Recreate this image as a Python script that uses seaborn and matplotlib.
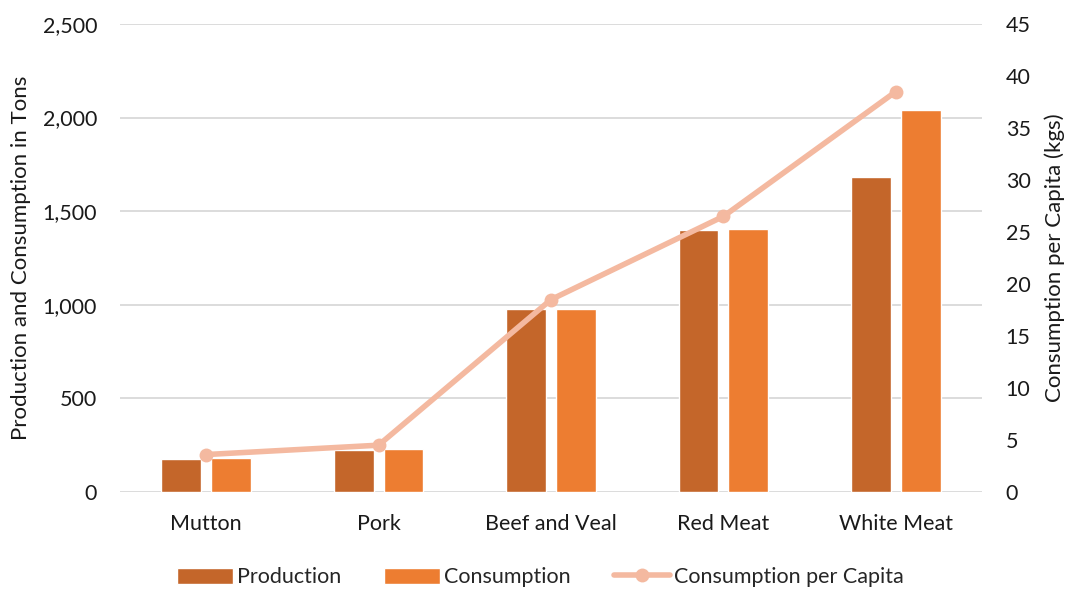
import matplotlib
matplotlib.use("Agg")
import matplotlib.pyplot as plt
import matplotlib.ticker as mticker
from matplotlib.patches import Patch
from matplotlib.lines import Line2D
import pandas as pd
import seaborn as sns

categories = ["Mutton", "Pork", "Beef and Veal", "Red Meat", "White Meat"]
production = [176, 225, 977, 1400, 1683]
consumption = [183, 231, 977, 1403, 2040]
per_capita = [3.6, 4.5, 18.5, 26.5, 38.5]

c_prod = "#C4662A"
c_cons = "#ED7D31"
c_line = "#F4B9A0"

sns.set_theme(style="white")
plt.rcParams["font.family"] = ["Lato", "DejaVu Sans"]

df = pd.DataFrame({
    "category": categories * 2,
    "value": production + consumption,
    "series": ["Production"] * 5 + ["Consumption"] * 5,
})
df_line = pd.DataFrame({"category": categories, "per_capita": per_capita})

fig = plt.figure(figsize=(10.7, 5.89), dpi=100)
ax = fig.add_axes([0.1121, 0.1647, 0.8057, 0.7946])

sns.barplot(data=df, x="category", y="value", hue="series",
            palette=[c_prod, c_cons], width=0.576, gap=0.2,
            saturation=1, legend=False, ax=ax)

ax.set_ylim(0, 2500)
ax.set_xlim(-0.5, 4.5)
ax.yaxis.set_major_locator(mticker.MultipleLocator(500))
ax.yaxis.set_major_formatter(mticker.FuncFormatter(lambda v, p: f"{int(v):,}"))
ax.grid(axis="y", color="#D9D9D9", linewidth=1.3)
ax.set_axisbelow(True)
for s in ax.spines.values():
    s.set_visible(False)
ax.tick_params(axis="both", length=0, labelsize=15.5, colors="#1a1a1a")
ax.tick_params(axis="x", pad=16)
ax.tick_params(axis="y", pad=16.5)
ax.set_xlabel("")
ax.set_ylabel("Production and Consumption in Tons", fontsize=16, color="#1a1a1a", labelpad=8)

ax2 = ax.twinx()
sns.lineplot(data=df_line, x="category", y="per_capita", color=c_line,
             linewidth=4, marker="o", markersize=10, markeredgewidth=0,
             sort=False, ax=ax2)
ax2.set_ylim(0, 45)
ax2.yaxis.set_major_locator(mticker.MultipleLocator(5))
for s in ax2.spines.values():
    s.set_visible(False)
ax2.tick_params(axis="y", length=0, labelsize=15.5, colors="#1a1a1a", pad=17)
ax2.set_ylabel("Consumption per Capita (kgs)", fontsize=16, color="#1a1a1a",
               rotation=90, labelpad=10)
ax2.grid(False)
ax2.set_xlim(-0.5, 4.5)

handles = [
    Patch(facecolor=c_prod, label="Production"),
    Patch(facecolor=c_cons, label="Consumption"),
    Line2D([0], [0], color=c_line, linewidth=4, marker="o", markersize=10,
           markeredgewidth=0, label="Consumption per Capita"),
]
fig.legend(handles=handles, loc="center", bbox_to_anchor=(0.505, 0.02),
           ncol=3, frameon=False, fontsize=15.5, handlelength=2.6,
           handleheight=0.8, columnspacing=2.0, handletextpad=0.2)

fig.savefig("out.png", dpi=100)
